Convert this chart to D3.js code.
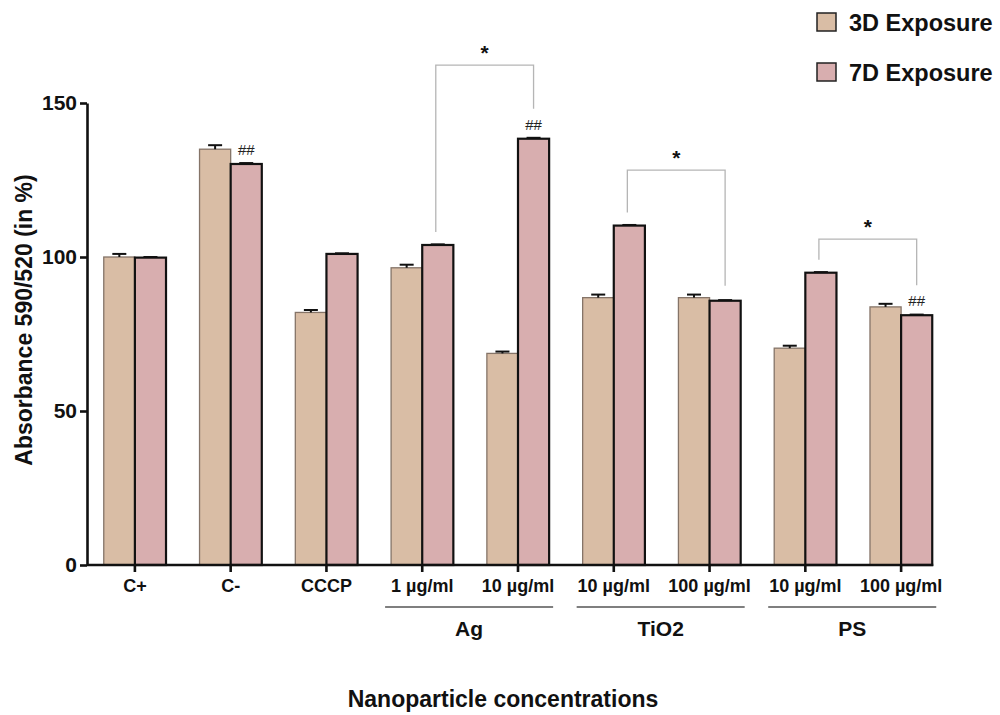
<!DOCTYPE html>
<html><head><meta charset="utf-8">
<script src="https://cdn.jsdelivr.net/npm/d3@7"></script>
<style>body{margin:0;background:#fff}svg{display:block;font-family:"Liberation Sans",Arial,sans-serif}</style>
</head><body><svg id="c" width="1000" height="715"></svg>
<script>
const categories = ["C+","C-","CCCP","1 µg/ml","10 µg/ml","10 µg/ml","100 µg/ml","10 µg/ml","100 µg/ml"];
const series = ["3D Exposure","7D Exposure"];
const values3D = [100, 135, 82, 96.5, 68.7, 86.8, 86.8, 70.4, 83.8];
const err3D    = [1.0, 1.3, 0.8, 1.0, 0.6, 1.0, 1.0, 0.8, 1.0];
const values7D = [99.8, 130.2, 101, 103.9, 138.4, 110.2, 85.8, 94.9, 81.1];
const err7D    = [0.2, 0.3, 0.2, 0.2, 0.3, 0.2, 0.2, 0.2, 0.2];
const hashMarks = [1, 4, 8];            // category index of 7D bars marked ##
const groups = [{name:"Ag", from:3, to:4},{name:"TiO2", from:5, to:6},{name:"PS", from:7, to:8}];
const brackets = [{from:3, to:4, level:162.3},{from:5, to:6, level:128.2},{from:7, to:8, level:105.8}];
const yTicks = [0, 50, 100, 150];
const colors = ["#d9bda5", "#d8aeaf"];

const svg = d3.select("#c");
const x0 = 87, xEnd = 949;
const x = d3.scaleBand().domain(d3.range(categories.length)).range([x0, xEnd]).paddingInner(0.35).paddingOuter(0.175);
const xs = d3.scaleBand().domain([0,1]).range([0, x.bandwidth()]);
const y = d3.scaleLinear().domain([0,150]).range([565, 103]);

// bars
const data = [values3D, values7D];
const errs = [err3D, err7D];
series.forEach((s, si) => {
  const g = svg.append("g");
  g.selectAll("rect").data(data[si]).join("rect")
    .attr("x", (d,i) => x(i) + xs(si))
    .attr("y", d => y(d))
    .attr("width", xs.bandwidth())
    .attr("height", d => y(0) - y(d))
    .attr("fill", colors[si])
    .attr("stroke", si === 0 ? "#857468" : "#111")
    .attr("stroke-width", si === 0 ? 1.3 : 2.2);
  const eg = svg.append("g").attr("stroke", "#111").attr("stroke-width", 2);
  data[si].forEach((d,i) => {
    const cx = x(i) + xs(si) + xs.bandwidth()/2;
    eg.append("line").attr("x1", cx).attr("x2", cx).attr("y1", y(d)).attr("y2", y(d + errs[si][i]));
    eg.append("line").attr("x1", cx-7).attr("x2", cx+7).attr("y1", y(d + errs[si][i])).attr("y2", y(d + errs[si][i]));
  });
});

// ## marks
svg.append("g").selectAll("text").data(hashMarks).join("text")
  .attr("x", i => x(i) + xs(1) + xs.bandwidth()/2)
  .attr("y", i => y(values7D[i]) - 9)
  .attr("text-anchor", "middle").attr("font-size", 15).attr("fill", "#222")
  .text("##");

// brackets
const bg = svg.append("g");
brackets.forEach(b => {
  const xa = x(b.from) + xs(1) + xs.bandwidth()/2 - 2;
  const xb = x(b.to) + xs(1) + xs.bandwidth()/2;
  const yl = y(b.level);
  const endA = y(values7D[b.from]) - (hashMarks.includes(b.from) ? 30 : 13);
  const endB = y(values7D[b.to]) - (hashMarks.includes(b.to) ? 30 : 15);
  bg.append("path").attr("d", `M${xa},${endA}V${yl}H${xb}V${endB}`)
    .attr("fill", "none").attr("stroke", "#b5b5b5").attr("stroke-width", 1.3);
  bg.append("text").attr("x", (xa+xb)/2).attr("y", yl - 5).attr("text-anchor", "middle")
    .attr("font-size", 21).attr("font-weight", "bold").attr("fill", "#111").text("*");
});

// y axis
const ya = svg.append("g").attr("transform", `translate(${x0},0)`)
  .call(d3.axisLeft(y).tickValues(yTicks).tickSize(7).tickPadding(3).tickSizeOuter(0));
ya.select(".domain").attr("stroke", "#111").attr("stroke-width", 2.6);
ya.selectAll(".tick line").attr("stroke", "#111").attr("stroke-width", 2.6);
ya.selectAll(".tick text").attr("font-size", 21).attr("font-weight", "bold").attr("fill", "#111")
  .attr("font-family", "Liberation Sans, Arial, sans-serif");

// x axis
const xa = svg.append("g").attr("transform", `translate(0,${y(0)})`)
  .call(d3.axisBottom(x).tickFormat(i => categories[i]).tickSize(7).tickPadding(7).tickSizeOuter(0));
xa.select(".domain").remove();
xa.append("line").attr("x1", x0).attr("x2", x(8) + x.bandwidth()+1).attr("stroke", "#111").attr("stroke-width", 2.6);
xa.selectAll(".tick line").attr("stroke", "#111").attr("stroke-width", 2.6);
xa.selectAll(".tick text").attr("font-size", 18).attr("font-weight", "bold").attr("fill", "#111")
  .attr("font-family", "Liberation Sans, Arial, sans-serif");

// groups
groups.forEach(gr => {
  const a = x(gr.from) - 6, b = x(gr.to) + x.bandwidth() + 4;
  svg.append("line").attr("x1", a).attr("x2", b).attr("y1", 607).attr("y2", 607).attr("stroke", "#555").attr("stroke-width", 1.3);
  svg.append("text").attr("x", (a+b)/2).attr("y", 636).attr("text-anchor", "middle")
    .attr("font-size", 21).attr("font-weight", "bold").attr("fill", "#111").text(gr.name);
});

// axis titles
svg.append("text").attr("transform", "translate(32,320) rotate(-90)").attr("text-anchor", "middle")
  .attr("font-size", 23).attr("font-weight", "bold").attr("fill", "#111").text("Absorbance 590/520 (in %)");
svg.append("text").attr("x", 503).attr("y", 707).attr("text-anchor", "middle")
  .attr("font-size", 23).attr("font-weight", "bold").attr("fill", "#111").text("Nanoparticle concentrations");

// legend
series.forEach((s, i) => {
  const ly = 13 + i * 50;
  svg.append("rect").attr("x", 817).attr("y", ly).attr("width", 19).attr("height", 18)
    .attr("fill", colors[i]).attr("stroke", "#222").attr("stroke-width", 1.5);
  svg.append("text").attr("x", 849).attr("y", ly + 18).attr("font-size", 23.5).attr("font-weight", "bold")
    .attr("fill", "#111").text(s);
});
</script></body></html>
